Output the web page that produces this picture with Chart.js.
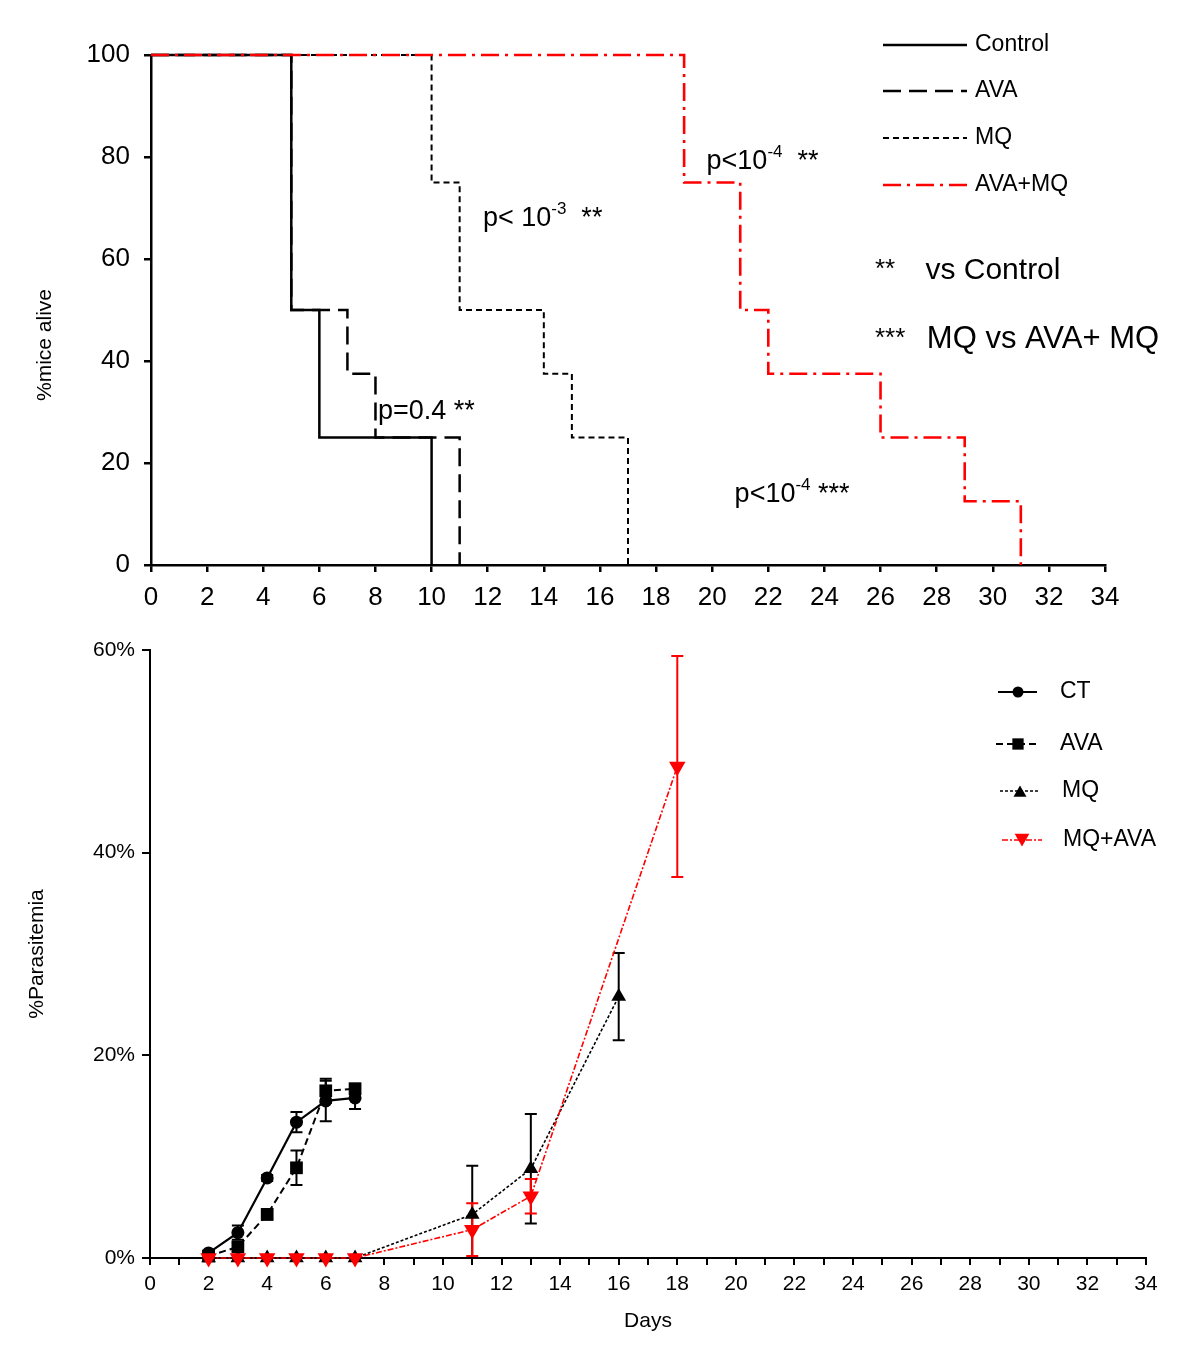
<!DOCTYPE html>
<html><head><meta charset="utf-8">
<script src="https://cdn.jsdelivr.net/npm/chart.js@4.4.1/dist/chart.umd.min.js"></script>
<style>
html,body{margin:0;padding:0;background:#fff;}
#wrap{position:relative;width:1200px;height:1368px;background:#fff;}
canvas{position:absolute;left:0;}
#c1{top:0;}
#c2{top:620px;}
</style></head><body>
<div id="wrap"><canvas id="c1" width="1200" height="620"></canvas><canvas id="c2" width="1200" height="748"></canvas></div>
<script>
const FONT = "'Liberation Sans', Arial, Helvetica, sans-serif";
const RED = '#ff0000';

// ---------- Survival (top) ----------
const survXTicks = [0,2,4,6,8,10,12,14,16,18,20,22,24,26,28,30,32,34];
const survYTicks = [0,20,40,60,80,100];
const controlDays = [0,5,6,10];
const controlAlive = [100,50,25,0];
const avaDays = [0,5,7,8,11];
const avaAlive = [100,50,37.5,25,0];
const mqDays = [0,10,11,14,15,17];
const mqAlive = [100,75,50,37.5,25,0];
const comboDays = [0,19,21,22,26,29,31];
const comboAlive = [100,75,50,37.5,25,12.5,0];

// ---------- Parasitemia (bottom) ----------
const paraXTicks = [0,1,2,3,4,5,6,7,8,9,10,11,12,13,14,15,16,17,18,19,20,21,22,23,24,25,26,27,28,29,30,31,32,33,34];
const paraYTicks = [0,20,40,60];
const ctDays = [2,3,4,5,6,7];
const ctMean = [0.5,2.5,7.9,13.4,15.5,15.8];
const ctErr = [0.2,0.7,0.3,1.0,2.0,1.1];
const avaPDays = [2,3,4,5,6,7];
const avaMean = [0.2,1.1,4.3,8.9,16.5,16.7];
const avaErr = [0.2,0.4,0.5,1.7,1.2,0.5];
const mqPDays = [2,3,4,5,6,7,11,13,16];
const mqMean = [0,0,0,0,0,0,4.3,8.8,25.8];
const mqErr = [0,0,0,0,0,0,4.8,5.4,4.3];
const comboPDays = [2,3,4,5,6,7,11,13,18];
const comboMean = [0,0,0,0,0,0,2.8,6.1,48.5];
const comboErr = [0,0,0,0,0,0,2.6,1.7,10.9];

const pts = (xs, ys) => xs.map((x,i)=>({x:x, y:ys[i]}));

// ---------- Chart 1 ----------
const survSets = [
  {label:'AVA+MQ', data:pts(comboDays,comboAlive), borderColor:RED, borderWidth:2.6, borderDash:[18,6,3,6], order:0},
  {label:'Control', data:pts(controlDays,controlAlive), borderColor:'#000', borderWidth:2.5, borderDash:[], order:3},
  {label:'AVA', data:pts(avaDays,avaAlive), borderColor:'#000', borderWidth:2.5, borderDash:[18,8], order:2},
  {label:'MQ', data:pts(mqDays,mqAlive), borderColor:'#000', borderWidth:2, borderDash:[6,4], order:1}
];
survSets.forEach(d=>{d.stepped=true; d.pointRadius=0; d.fill=false; d.clip=false; d.tension=0;});
const survLegendOrder = ['Control','AVA','MQ','AVA+MQ'];

function drawParts(ctx, parts, x, y){
  let cx = x;
  for (const p of parts){
    ctx.font = p.s + 'px ' + FONT;
    ctx.fillText(p.t, cx, y + (p.dy||0));
    cx += ctx.measureText(p.t).width;
  }
}

const survPlugin = {
  id:'survDecor',
  afterDraw(chart){
    const ctx = chart.ctx, xs = chart.scales.x, ys = chart.scales.y;
    ctx.save();
    ctx.fillStyle = '#000';
    ctx.textBaseline = 'alphabetic';
    ctx.textAlign = 'left';
    const X = v=>xs.getPixelForValue(v), Y = v=>ys.getPixelForValue(v);
    drawParts(ctx, [{t:'p< 10',s:27},{t:'-3',s:17,dy:-12},{t:'  **',s:27}], X(11.83), Y(66.5));
    drawParts(ctx, [{t:'p<10',s:27},{t:'-4',s:17,dy:-12},{t:'  **',s:27}], X(19.8), Y(77.6));
    drawParts(ctx, [{t:'p=0.4 **',s:27}], X(8.09), Y(28.6));
    drawParts(ctx, [{t:'p<10',s:27},{t:'-4',s:17,dy:-12},{t:' ***',s:27}], X(20.8), Y(12.3));
    drawParts(ctx, [{t:'**',s:26}], X(25.8), Y(56.5));
    drawParts(ctx, [{t:'vs Control',s:30}], X(27.6), Y(56.0));
    drawParts(ctx, [{t:'***',s:26}], X(25.8), Y(43.0));
    drawParts(ctx, [{t:'MQ vs AVA+ MQ',s:31}], X(27.65), Y(42.6));
    // y title
    ctx.save();
    ctx.translate(45, 345);
    ctx.rotate(-Math.PI/2);
    ctx.textAlign='center'; ctx.textBaseline='middle';
    ctx.font = '21px ' + FONT;
    ctx.fillText('%mice alive', 0, 0);
    ctx.restore();
    // legend
    const ly = [45,91,138,185];
    survLegendOrder.forEach((name,i)=>{
      const d = chart.data.datasets.find(s=>s.label===name);
      ctx.save();
      ctx.strokeStyle = d.borderColor; ctx.lineWidth = d.borderWidth;
      ctx.setLineDash(d.borderDash);
      ctx.beginPath(); ctx.moveTo(883, ly[i]); ctx.lineTo(967, ly[i]); ctx.stroke();
      ctx.restore();
      ctx.font = '23px ' + FONT; ctx.textBaseline='middle'; ctx.textAlign='left';
      ctx.fillText(name, 975, ly[i]);
    });
    ctx.restore();
  }
};

new Chart(document.getElementById('c1'), {
  type:'line',
  data:{datasets:survSets},
  options:{
    responsive:false, animation:false, devicePixelRatio:1,
    layout:{padding:{left:0,right:95,top:55,bottom:0}},
    plugins:{legend:{display:false}, tooltip:{enabled:false}},
    scales:{
      x:{type:'linear', min:0, max:34,
        afterFit(s){s.height=55;},
        afterBuildTicks(s){s.ticks = survXTicks.map(v=>({value:v}));},
        border:{display:true,color:'#000',width:2.5},
        grid:{display:true,drawOnChartArea:false,drawTicks:true,tickLength:7,color:'#000',lineWidth:2.5},
        ticks:{color:'#000',font:{family:FONT,size:26},padding:10,maxRotation:0,autoSkip:false}
      },
      y:{type:'linear', min:0, max:100,
        afterFit(s){s.width=151;},
        afterBuildTicks(s){s.ticks = survYTicks.map(v=>({value:v}));},
        border:{display:true,color:'#000',width:2.5},
        grid:{display:true,drawOnChartArea:false,drawTicks:true,tickLength:7,color:'#000',lineWidth:2.5},
        ticks:{color:'#000',font:{family:FONT,size:26},padding:14}
      }
    }
  },
  plugins:[survPlugin]
});

// ---------- Chart 2 ----------
const paraSets = [
  {label:'MQ+AVA', data:pts(comboPDays,comboMean), errs:comboErr, borderColor:RED, borderWidth:1.6, borderDash:[6,2,2,2], pointStyle:'triangle', pointRotation:180, pointRadius:9.5, order:0},
  {label:'CT', data:pts(ctDays,ctMean), errs:ctErr, borderColor:'#000', borderWidth:2.2, borderDash:[], pointStyle:'circle', pointRadius:6.5, order:3},
  {label:'AVA', data:pts(avaPDays,avaMean), errs:avaErr, borderColor:'#000', borderWidth:2, borderDash:[7,4], pointStyle:'rect', pointRadius:9, order:2},
  {label:'MQ', data:pts(mqPDays,mqMean), errs:mqErr, borderColor:'#000', borderWidth:1.6, borderDash:[3,2], pointStyle:'triangle', pointRadius:8.5, order:1}
];
paraSets.forEach(d=>{d.fill=false; d.clip=false; d.tension=0; d.pointBorderWidth=0; d.backgroundColor=d.borderColor; d.pointBackgroundColor=d.borderColor; d.pointBorderColor=d.borderColor;});
const paraLegendOrder = ['CT','AVA','MQ','MQ+AVA'];

function marker(ctx, style, x, y, r, rot, color){
  ctx.fillStyle = color; ctx.beginPath();
  if (style==='circle') ctx.arc(x,y,r,0,2*Math.PI);
  else if (style==='rect'){ const s=r*Math.SQRT1_2; ctx.rect(x-s,y-s,2*s,2*s); }
  else { let a=(rot||0)*Math.PI/180; for(let k=0;k<3;k++){ const px=x+Math.sin(a)*r, py=y-Math.cos(a)*r; if(k) ctx.lineTo(px,py); else ctx.moveTo(px,py); a+=2*Math.PI/3; } ctx.closePath(); }
  ctx.fill();
}

const errPlugin = {
  id:'errBars',
  beforeDatasetsDraw(chart){
    const ctx = chart.ctx, xs = chart.scales.x, ys = chart.scales.y;
    ctx.save();
    chart.data.datasets.slice().reverse().forEach(d=>{
      ctx.strokeStyle = d.borderColor; ctx.lineWidth = 2; ctx.setLineDash([]);
      d.data.forEach((p,i)=>{
        const e = d.errs[i]; if (!e) return;
        const px = xs.getPixelForValue(p.x);
        const top = ys.getPixelForValue(p.y + e);
        const bot = ys.getPixelForValue(Math.max(0, p.y - e));
        ctx.beginPath();
        ctx.moveTo(px, top); ctx.lineTo(px, bot);
        ctx.moveTo(px-6, top); ctx.lineTo(px+6, top);
        if (p.y - e > 0){ ctx.moveTo(px-6, bot); ctx.lineTo(px+6, bot); }
        ctx.stroke();
      });
    });
    ctx.restore();
  },
  afterDraw(chart){
    const ctx = chart.ctx;
    ctx.save();
    const ly = [72,124,171,220];
    const lx = [[998,1037,1018,1060],[996,1038,1018,1060],[1000,1040,1020,1062],[1002,1042,1022,1063]];
    paraLegendOrder.forEach((name,i)=>{
      const d = chart.data.datasets.find(s=>s.label===name);
      ctx.save();
      ctx.strokeStyle=d.borderColor; ctx.lineWidth=d.borderWidth; ctx.setLineDash(d.borderDash);
      ctx.beginPath(); ctx.moveTo(lx[i][0], ly[i]); ctx.lineTo(lx[i][1], ly[i]); ctx.stroke();
      ctx.restore();
      const r = d.pointRadius - 1;
      marker(ctx, d.pointStyle, lx[i][2], ly[i] + (d.pointStyle==='triangle' ? (d.pointRotation? -2: 2) : 0), r, d.pointRotation, d.borderColor);
      ctx.fillStyle='#000'; ctx.font='23px '+FONT; ctx.textBaseline='middle'; ctx.textAlign='left';
      ctx.fillText(name, lx[i][3], ly[i]);
    });
    ctx.restore();
  }
};

new Chart(document.getElementById('c2'), {
  type:'line',
  data:{datasets:paraSets},
  options:{
    responsive:false, animation:false, devicePixelRatio:1,
    layout:{padding:{left:0,right:54,top:30,bottom:0}},
    plugins:{legend:{display:false}, tooltip:{enabled:false}},
    scales:{
      x:{type:'linear', min:0, max:34,
        afterFit(s){s.height=110;},
        afterBuildTicks(s){s.ticks = paraXTicks.map(v=>({value:v}));},
        border:{display:true,color:'#000',width:2},
        grid:{display:true,drawOnChartArea:false,drawTicks:true,tickLength:7,color:'#000',lineWidth:2},
        ticks:{color:'#000',font:{family:FONT,size:21},padding:7,maxRotation:0,autoSkip:false,
          callback:(v)=> (v%2===0 ? String(v) : '')},
        title:{display:true,text:'Days',color:'#000',font:{family:FONT,size:21},padding:{top:0,bottom:34}}
      },
      y:{type:'linear', min:0, max:60,
        afterFit(s){s.width=150;},
        afterBuildTicks(s){s.ticks = paraYTicks.map(v=>({value:v}));},
        border:{display:true,color:'#000',width:2},
        grid:{display:true,drawOnChartArea:false,drawTicks:true,tickLength:8,color:'#000',lineWidth:2},
        ticks:{color:'#000',font:{family:FONT,size:21},padding:7,callback:(v)=>v+'%'},
        title:{display:true,text:'%Parasitemia',color:'#000',font:{family:FONT,size:21},padding:{top:25,bottom:0}}
      }
    }
  },
  plugins:[errPlugin]
});
</script>
</body></html>
